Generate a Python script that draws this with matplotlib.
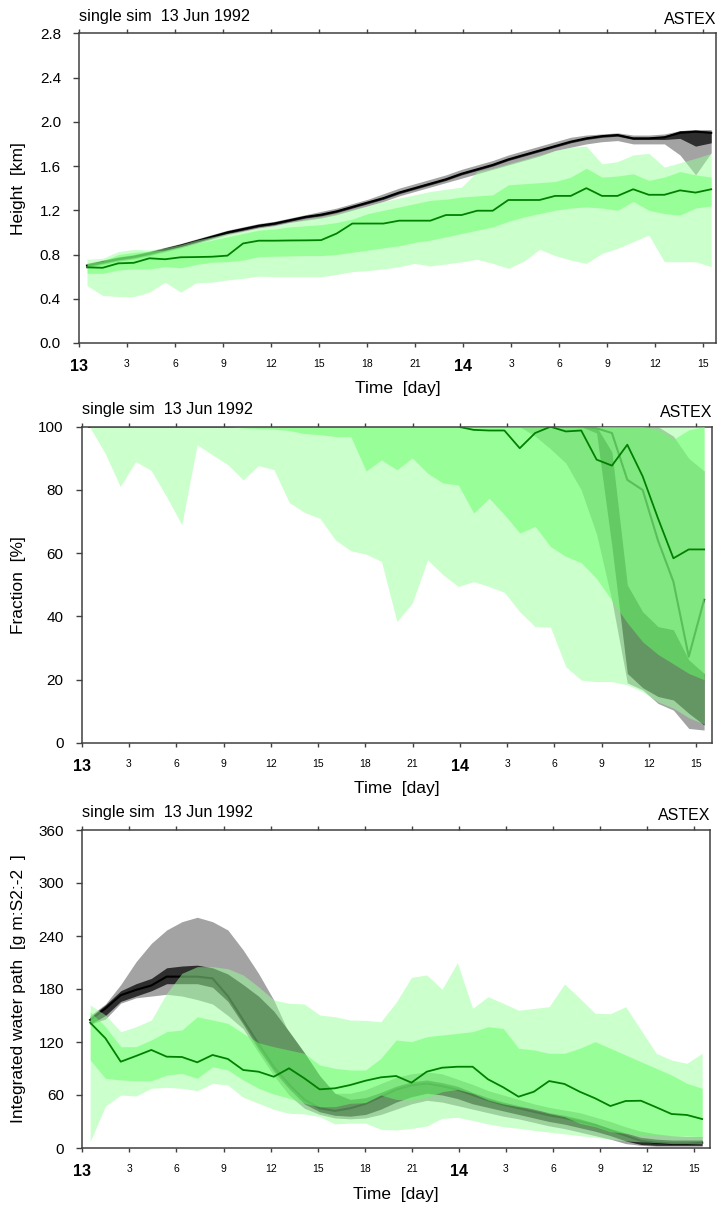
import numpy as np
import matplotlib
matplotlib.use("Agg")
import matplotlib.pyplot as plt

plt.rcParams['font.family'] = ['Liberation Sans', 'DejaVu Sans']

#############################################################
# Data - hourly output, 41 samples from 13 Jun 00:30
#############################################################

hours = np.linspace(0.5, 39.5, 41)

xtick_pos = list(range(0, 40, 3))
xtick_lab = ['13', '3', '6', '9', '12', '15', '18', '21', '14', '3', '6', '9', '12', '15']

# --- Height [km]
h_min = [0.52, 0.43, 0.42, 0.42, 0.46, 0.55, 0.46, 0.545, 0.55, 0.57, 0.585, 0.605, 0.60, 0.60,
         0.60, 0.60, 0.62, 0.645, 0.655, 0.67, 0.69, 0.72, 0.696, 0.715, 0.735, 0.757, 0.72,
         0.675, 0.74, 0.847, 0.79, 0.75, 0.72, 0.81, 0.856, 0.916, 0.976, 0.735, 0.735, 0.735, 0.69]
h_max = [0.757, 0.766, 0.826, 0.847, 0.84, 0.86, 0.89, 0.93, 0.96, 0.99, 1.01, 1.04, 1.06, 1.09,
         1.12, 1.14, 1.17, 1.21, 1.24, 1.28, 1.31, 1.34, 1.37, 1.39, 1.41, 1.55, 1.58, 1.62,
         1.66, 1.70, 1.74, 1.77, 1.78, 1.62, 1.64, 1.70, 1.715, 1.59, 1.63, 1.67, 1.715]
h_plo = [0.63, 0.63, 0.66, 0.67, 0.67, 0.69, 0.68, 0.71, 0.73, 0.735, 0.75, 0.78, 0.785, 0.787,
         0.79, 0.79, 0.80, 0.82, 0.84, 0.86, 0.88, 0.91, 0.93, 0.96, 0.99, 1.02, 1.05, 1.10,
         1.14, 1.17, 1.20, 1.22, 1.23, 1.22, 1.20, 1.28, 1.20, 1.17, 1.157, 1.22, 1.24]
h_phi = [0.72, 0.74, 0.80, 0.82, 0.83, 0.84, 0.87, 0.90, 0.93, 0.96, 0.99, 1.02, 1.03, 1.05,
         1.06, 1.07, 1.09, 1.12, 1.17, 1.20, 1.23, 1.26, 1.29, 1.30, 1.32, 1.33, 1.34, 1.43,
         1.44, 1.45, 1.46, 1.50, 1.58, 1.50, 1.51, 1.53, 1.47, 1.50, 1.55, 1.52, 1.50]
h_med = [0.684, 0.68, 0.72, 0.725, 0.766, 0.757, 0.775, 0.777, 0.78, 0.79, 0.90, 0.925, 0.925,
         0.927, 0.928, 0.93, 0.99, 1.08, 1.08, 1.08, 1.106, 1.106, 1.106, 1.157, 1.157, 1.196,
         1.196, 1.293, 1.293, 1.293, 1.33, 1.33, 1.40, 1.33, 1.33, 1.39, 1.34, 1.34, 1.38, 1.36, 1.39]
h_glo = [0.68, 0.71, 0.74, 0.76, 0.79, 0.825, 0.86, 0.90, 0.94, 0.98, 1.01, 1.04, 1.06, 1.09,
         1.11, 1.13, 1.16, 1.20, 1.24, 1.28, 1.33, 1.37, 1.41, 1.45, 1.49, 1.53, 1.57, 1.61,
         1.65, 1.69, 1.74, 1.77, 1.80, 1.82, 1.83, 1.80, 1.80, 1.80, 1.70, 1.52, 1.72]
h_ghi = [0.72, 0.75, 0.78, 0.80, 0.83, 0.865, 0.90, 0.94, 0.98, 1.02, 1.05, 1.08, 1.10, 1.13,
         1.16, 1.19, 1.22, 1.26, 1.30, 1.35, 1.40, 1.44, 1.48, 1.52, 1.57, 1.61, 1.65, 1.70,
         1.74, 1.78, 1.82, 1.86, 1.88, 1.89, 1.90, 1.88, 1.88, 1.89, 1.92, 1.93, 1.93]
h_dlo = [0.69, 0.72, 0.75, 0.77, 0.80, 0.835, 0.87, 0.91, 0.95, 0.99, 1.02, 1.05, 1.07, 1.10,
         1.13, 1.15, 1.18, 1.22, 1.26, 1.30, 1.35, 1.39, 1.43, 1.47, 1.52, 1.56, 1.60, 1.65,
         1.69, 1.73, 1.77, 1.81, 1.84, 1.86, 1.87, 1.84, 1.84, 1.84, 1.85, 1.78, 1.81]
h_dhi = [0.71, 0.74, 0.77, 0.79, 0.82, 0.855, 0.89, 0.93, 0.97, 1.01, 1.04, 1.07, 1.09, 1.12,
         1.15, 1.17, 1.20, 1.24, 1.28, 1.32, 1.37, 1.41, 1.45, 1.49, 1.54, 1.58, 1.62, 1.67,
         1.71, 1.75, 1.79, 1.83, 1.86, 1.88, 1.89, 1.86, 1.86, 1.87, 1.92, 1.925, 1.915]
h_blk = [0.70, 0.73, 0.76, 0.78, 0.81, 0.845, 0.88, 0.92, 0.96, 1.00, 1.03, 1.06, 1.08, 1.11,
         1.14, 1.16, 1.19, 1.23, 1.27, 1.31, 1.36, 1.40, 1.44, 1.48, 1.53, 1.57, 1.61, 1.66,
         1.70, 1.74, 1.78, 1.82, 1.85, 1.87, 1.88, 1.85, 1.85, 1.86, 1.90, 1.91, 1.90]

# --- Fraction [%]
f_min = [100, 91.7, 81.1, 89.0, 86.2, 78, 69, 94.3, 91.1, 88, 83.2, 87.7, 86.4, 76, 72.9, 71,
         64.2, 60.8, 59.7, 57.4, 38.4, 44.2, 57.9, 53.2, 49.5, 51, 49.5, 47.6, 41.5, 36.8, 36.6,
         24.1, 19.9, 19.4, 19.4, 18.4, 16.2, 13, 11, 8, 6]
f_max = [100] * 41
f_plo = [100, 100, 100, 100, 100, 100, 100, 100, 100, 100, 99.6, 99.4, 99.2, 98.8, 97.8, 97.5,
         96.9, 96.9, 86, 89.5, 86.4, 90.1, 85.3, 82.2, 81.6, 72.7, 77.4, 72.2, 66.4, 68.5, 62.1,
         59, 57, 52, 45, 38, 32, 28, 25, 22, 20]
f_phi = [100] * 37 + [99, 96, 99, 100]
f_med = [100] * 24 + [100, 99, 98.8, 98.8, 93.2, 98, 100, 98.5, 98.8, 89.6, 87.7, 94.3, 84.3,
                      71, 58.4, 61.2, 61.2]
f_glo = [100] * 29 + [97, 93, 88.5, 80, 66, 45, 19, 16.8, 12.5, 10.4, 4.6, 4.1]
f_ghi = [100] * 38 + [97, 90, 86]
f_dlo = [100] * 33 + [98, 62, 22, 17.5, 14.7, 13.6, 9.4, 5.7]
f_dhi = [100] * 34 + [92, 50, 41.5, 36.8, 35.8, 26.3, 22]
f_blk = [100] * 33 + [99.5, 98, 83.2, 80, 64, 51, 27.3, 45.3]

# --- Integrated water path [g m-2]
w_min = [7.2, 47.5, 60, 58.9, 67.6, 68.7, 67.6, 64.9, 73.2, 71.3, 57.4, 50.6, 43.8, 39.3, 38.5,
         35.5, 27.2, 28.3, 28.3, 21.1, 20.4, 22.3, 24.9, 33.6, 34.7, 31.3, 27.2, 24.2, 22.3, 20,
         18, 16, 14, 12, 10, 8, 7, 6, 5, 5, 5]
w_max = [161.9, 150.6, 131.7, 137.3, 144.9, 175.1, 197.8, 205.3, 205.3, 203, 195.9, 182.6, 167.6,
         163.8, 163, 150.6, 148.6, 144.9, 144.5, 143, 165, 193.2, 195.9, 179.7, 209.8, 158.1,
         171.3, 163.8, 156, 158, 160, 185.7, 169.5, 152.5, 152, 160, 133.6, 107.2, 99.6, 95.9, 107.2]
w_plo = [99.6, 78.9, 77, 76.2, 76.2, 82.6, 84.5, 78.9, 92, 88.3, 77, 67.6, 61.1, 56.3, 50.6,
         46.8, 46.8, 50.6, 51.3, 60, 55, 54.3, 57.4, 63.7, 66.3, 61.9, 54.3, 49.8, 46.8, 44.9,
         39.3, 35.5, 27.9, 24.2, 18.5, 16.6, 14.7, 14.7, 13.6, 13.6, 12.8]
w_phi = [154.3, 137.3, 114.7, 114.7, 122.3, 131.7, 133.6, 148.6, 144.9, 141.1, 129.8, 119.2,
         114.7, 110.9, 107.2, 94, 90.2, 88.3, 88.3, 101.5, 122.3, 120.4, 126, 127.9, 129.8,
         131.7, 137.3, 135.4, 112.9, 111, 107.2, 107.2, 112.9, 120.4, 112.9, 105.3, 97.7, 90.2,
         82.6, 73.2, 67.6]
w_med = [141.9, 124.2, 97.7, 104.2, 111, 103.4, 103, 97, 105.3, 100.8, 88.3, 86.4, 80.7, 90.2,
         78.9, 66.4, 67.6, 71.3, 76.2, 80, 81.5, 74, 86.4, 90.9, 92, 92, 77.8, 68.7, 58.1, 63.7,
         75.8, 72.5, 63.7, 56.3, 47.5, 53.2, 53.5, 46.1, 38.5, 37.4, 32.8]
w_glo = [140, 146, 164, 170, 172, 174, 172, 168, 163, 150, 135, 108, 82, 60, 45, 38, 34, 33, 34,
         38, 44, 50, 54, 52, 48, 44, 40, 36, 33, 29, 25, 22, 18, 14, 10, 5, 3, 2, 2, 2, 2]
w_ghi = [150, 163, 185, 210.9, 231.7, 246.8, 256.2, 261.2, 256.2, 246.8, 224.2, 197.8, 167.6,
         129.8, 92, 73.2, 62, 62, 66, 73, 80, 84, 86, 84, 78, 72, 65, 60, 55, 50, 46, 43, 40, 35,
         30, 24, 19, 16, 14, 13, 13]
w_dlo = [140, 150, 166, 172, 178, 186, 186, 186, 182, 166, 140, 112, 87, 67, 50, 41, 37, 36, 38,
         44, 52, 58, 62, 60, 56, 50, 46, 42, 38, 34, 30, 27, 23, 19, 14, 8, 4, 3, 3, 3, 3]
w_dhi = [148, 162, 178, 186, 192, 204, 206, 207, 204, 197, 185, 172, 155, 132, 108, 82, 62, 55,
         57, 63, 70, 75, 77, 74, 70, 63, 57, 52, 48, 44, 40, 37, 33, 28, 22, 17, 12, 10, 9, 9, 9]
w_blk = [145, 158, 173, 179, 184, 194, 194, 194, 192, 172, 145, 118, 92, 72, 55, 45, 42, 45, 50,
         58, 66, 71, 73, 70, 66, 60, 54, 49, 45, 41, 37, 34, 30, 26, 20, 14, 8, 6, 5, 5, 6]

#############################################################
# Presentation
#############################################################

W, H = 720, 1209
fig = plt.figure(figsize=(W / 100, H / 100), dpi=100)

frame_col = '#404040'


def add_panel(box):
    left, top, right, bottom = box
    return fig.add_axes([left / W, 1 - bottom / H, (right - left) / W, (bottom - top) / H])


def draw_panel(box, xmax, gmin, gmax, plo, phi, gmed, glo, ghi, dlo, dhi, blk,
               ylim, yticks, yfmt, ylabel):
    ax = add_panel(box)
    left, top, right, bottom = box

    # single-sim spread (grey), ensemble spread (green, see-through) on top
    ax.fill_between(hours, glo, ghi, color='#a3a3a3', lw=0, zorder=1)
    ax.fill_between(hours, dlo, dhi, color='#2e2e2e', lw=0, zorder=2)
    ax.plot(hours, blk, color='black', lw=1.5, zorder=3)
    ax.fill_between(hours, gmin, gmax, color='#99ff99', alpha=0.5, lw=0, zorder=4)
    ax.fill_between(hours, plo, phi, color='#66ff66', alpha=0.5, lw=0, zorder=5)
    ax.plot(hours, gmed, color='#008000', lw=1.3, zorder=6)

    ax.set_xlim(0, xmax)
    ax.set_ylim(*ylim)
    ax.set_yticks(yticks)
    ax.set_yticklabels([yfmt % v for v in yticks], fontsize=11)
    ax.set_xticks(xtick_pos)
    ax.set_xticklabels(xtick_lab)
    for lab in ax.get_xticklabels():
        if lab.get_text() in ('13', '14'):
            lab.set_fontsize(11.5)
            lab.set_fontweight('bold')
        else:
            lab.set_fontsize(7.5)

    for s in ax.spines.values():
        s.set_color(frame_col)
        s.set_linewidth(1.1)
    ax.tick_params(axis='x', direction='out', length=3, width=1, color=frame_col,
                   top=True, pad=8.5)
    ax.tick_params(axis='y', direction='out', length=4, width=1, color=frame_col,
                   right=False, pad=9)

    # titles and axis labels
    fig.text(left / W, 1 - (top - 17) / H, 'single sim  13 Jun 1992', fontsize=11.7,
             ha='left', va='center')
    fig.text(right / W, 1 - (top - 14) / H, 'ASTEX', fontsize=11.5, ha='right', va='center')
    fig.text(((left + right) / 2) / W, 1 - (bottom + 46) / H, 'Time  [day]', fontsize=12.5,
             ha='center', va='center')
    fig.text(18.5 / W, 1 - ((top + bottom) / 2) / H, ylabel, fontsize=12.5, rotation=90,
             ha='center', va='center')
    return ax


draw_panel((79, 33.3, 716, 343), 39.8, h_min, h_max, h_plo, h_phi, h_med,
           h_glo, h_ghi, h_dlo, h_dhi, h_blk,
           (0, 2.8), [0.0, 0.4, 0.8, 1.2, 1.6, 2.0, 2.4, 2.8], '%.1f', 'Height  [km]')

draw_panel((81.7, 426.7, 712, 743), 40.0, f_min, f_max, f_plo, f_phi, f_med,
           f_glo, f_ghi, f_dlo, f_dhi, f_blk,
           (0, 100), [0, 20, 40, 60, 80, 100], '%d', 'Fraction  [%]')

draw_panel((82.3, 830, 710, 1148), 40.0, w_min, w_max, w_plo, w_phi, w_med,
           w_glo, w_ghi, w_dlo, w_dhi, w_blk,
           (0, 360), [0, 60, 120, 180, 240, 300, 360], '%d',
           'Integrated water path  [g m:S2:-2  ]')

fig.savefig('out.png', dpi=100)
